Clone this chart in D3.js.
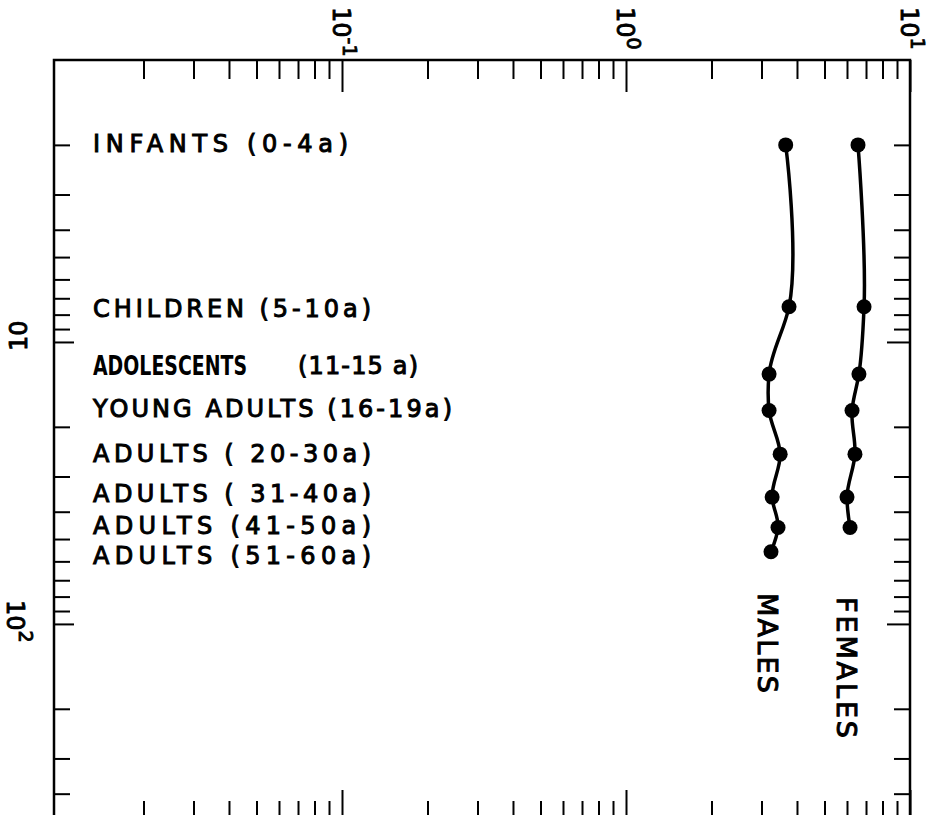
<!DOCTYPE html>
<html>
<head>
<meta charset="utf-8">
<script src="https://cdn.jsdelivr.net/npm/d3@7/dist/d3.min.js"></script>
<style>
  html, body { margin: 0; padding: 0; background: #fff; }
  svg { display: block; }
  text { font-family: "DejaVu Sans", sans-serif; fill: #000; }
</style>
</head>
<body>
<div id="content"></div>
<script>
// age groups, and the age (years) each group is plotted at
const groups = [
  'INFANTS (0-4a)',
  'CHILDREN (5-10a)',
  'ADOLESCENTS|(11-15 a)',
  'YOUNG ADULTS (16-19a)',
  'ADULTS ( 20-30a)',
  'ADULTS ( 31-40a)',
  'ADULTS (41-50a)',
  'ADULTS (51-60a)',
];
const ages = [2, 7.5, 13, 17.5, 25, 35.5, 45.5, 55.5];

const males = [3.65, 3.75, 3.19, 3.19, 3.49, 3.27, 3.43, 3.24];
const females = [6.56, 6.89, 6.61, 6.25, 6.40, 6.00, 6.15];
const seriesNames = ['MALES', 'FEMALES'];

// ticks
const xMinorTicks = [0.02, 0.03, 0.04, 0.05, 0.06, 0.07, 0.08, 0.09,
  0.2, 0.3, 0.4, 0.5, 0.6, 0.7, 0.8, 0.9, 2, 3, 4, 5, 6, 7, 8, 9];
const xMajorTicks = [0.1, 1, 10];
const xTickExps = ['-1', '0', '1'];
const yMinorTicks = [2, 3, 4, 5, 6, 7, 8, 9, 20, 30, 40, 50, 60, 70, 80, 90, 200, 300, 400];
const yMajorTicks = [10, 100];
const yTickExps = ['', '2'];

const Chart = (function() {
  const W = 944, H = 815;
  const frame = { left: 54, top: 60, bottom: 821 };
  const ink = '#000';

  const x = d3.scaleLog().domain([0.01, 10]).range([58, 910]);
  const y = d3.scaleLog().domain([1, 500]).range([frame.top, frame.bottom]);

  const svg = d3.select('#content').append('svg')
    .attr('width', W).attr('height', H);

  // frame
  svg.append('rect')
    .attr('x', frame.left).attr('y', frame.top)
    .attr('width', x(10) - frame.left)
    .attr('height', frame.bottom - frame.top)
    .attr('fill', 'none').attr('stroke', ink).attr('stroke-width', 2.5);

  // inward ticks on all four sides
  const ticks = (axisFn, scale, values, size, transform) => {
    const g = svg.append('g').attr('transform', transform)
      .call(axisFn(scale).tickValues(values).tickSize(size).tickFormat(''));
    g.select('.domain').remove();
    g.selectAll('line').attr('stroke', ink).attr('stroke-width', 2);
    g.selectAll('text').remove();
  };
  ticks(d3.axisBottom, x, xMinorTicks, 19, `translate(0,${frame.top})`);
  ticks(d3.axisBottom, x, xMajorTicks, 32, `translate(0,${frame.top})`);
  ticks(d3.axisTop, x, xMinorTicks, 20, `translate(0,${frame.bottom})`);
  ticks(d3.axisTop, x, xMajorTicks, 31, `translate(0,${frame.bottom})`);
  ticks(d3.axisRight, y, yMinorTicks, 16, `translate(${frame.left},0)`);
  ticks(d3.axisRight, y, yMajorTicks, 20, `translate(${frame.left},0)`);
  ticks(d3.axisLeft, y, yMinorTicks, 16, `translate(${x(10)},0)`);
  ticks(d3.axisLeft, y, yMajorTicks, 23, `translate(${x(10)},0)`);

  // power-of-ten labels, lettered sideways
  const power = (g, exp, size, supSize, shift) => {
    const t = g.append('text').attr('font-size', size)
      .attr('stroke', ink).attr('stroke-width', 0.9);
    t.append('tspan').text('10');
    if (exp) t.append('tspan').attr('font-size', supSize).attr('dy', -shift).text(exp);
  };
  xMajorTicks.forEach((v, i) => {
    const g = svg.append('g').attr('transform', `translate(${x(v) - 9},7) rotate(90)`);
    power(g, xTickExps[i], 24, 19, 10);
  });
  // the 10 on the left axis reads upward, the 10^2 reads downward
  svg.append('g').attr('transform', `translate(27,${y(yMajorTicks[0]) + 9}) rotate(-90)`)
    .call(g => power(g, yTickExps[0], 24, 19, 10));
  svg.append('g').attr('transform', `translate(7,${y(yMajorTicks[1]) - 24}) rotate(90)`)
    .call(g => power(g, yTickExps[1], 24, 19, 12));

  // group labels (hand lettered, so each sits a touch off its point)
  const labelWidths = [255, 278, [154, 120], 359, 278, 278, 278, 278];
  const labelNudge = [-2, 1, -9, -2, -1, -4, -2, 3];
  const lettering = sel => sel
    .attr('font-size', 24)
    .attr('stroke', ink).attr('stroke-width', 1)
    .attr('lengthAdjust', 'spacing');
  groups.forEach((label, i) => {
    const cy = y(ages[i]) + labelNudge[i];
    const parts = label.split('|');
    const w = labelWidths[i];
    if (parts.length === 1) {
      svg.append('text').call(lettering)
        .attr('x', 93).attr('y', cy + 9)
        .attr('textLength', w)
        .text(label);
    } else {
      svg.append('text')
        .attr('x', 93).attr('y', cy + 10)
        .attr('font-size', 27).attr('font-weight', 'bold')
        .attr('font-family', '"DejaVu Sans Condensed", "DejaVu Sans", sans-serif')
        .attr('font-stretch', 'condensed')
        .attr('textLength', w[0]).attr('lengthAdjust', 'spacingAndGlyphs')
        .text(parts[0]);
      svg.append('text').call(lettering)
        .attr('x', 298).attr('y', cy + 9)
        .attr('textLength', w[1])
        .text(parts[1]);
    }
  });

  // series
  const line = d3.line()
    .x(d => x(d.v))
    .y(d => y(d.age))
    .curve(d3.curveCatmullRom.alpha(1));

  const series = [males, females].map((vals, s) => ({
    name: seriesNames[s],
    points: vals.map((v, i) => ({ v, age: ages[i] })),
  }));

  const sg = svg.selectAll('g.series').data(series).enter()
    .append('g').attr('class', 'series');
  sg.append('path')
    .attr('d', d => line(d.points))
    .attr('fill', 'none').attr('stroke', ink).attr('stroke-width', 3.5);
  sg.selectAll('circle').data(d => d.points).enter()
    .append('circle')
    .attr('cx', d => x(d.v)).attr('cy', d => y(d.age))
    .attr('r', 7.5).attr('fill', ink);

  // series names, lettered downward beneath the last point
  const nameLengths = [100, 141];
  const nameTops = [593, 597];
  sg.append('text')
    .attr('transform', (d, i) => {
      const last = d.points[d.points.length - 1];
      return `translate(${x(last.v) - 13},${nameTops[i]}) rotate(90)`;
    })
    .attr('font-size', 27)
    .attr('stroke', ink).attr('stroke-width', 1)
    .attr('textLength', (d, i) => nameLengths[i]).attr('lengthAdjust', 'spacing')
    .text(d => d.name);

  return { x, y, svg };
})();
</script>
</body>
</html>
